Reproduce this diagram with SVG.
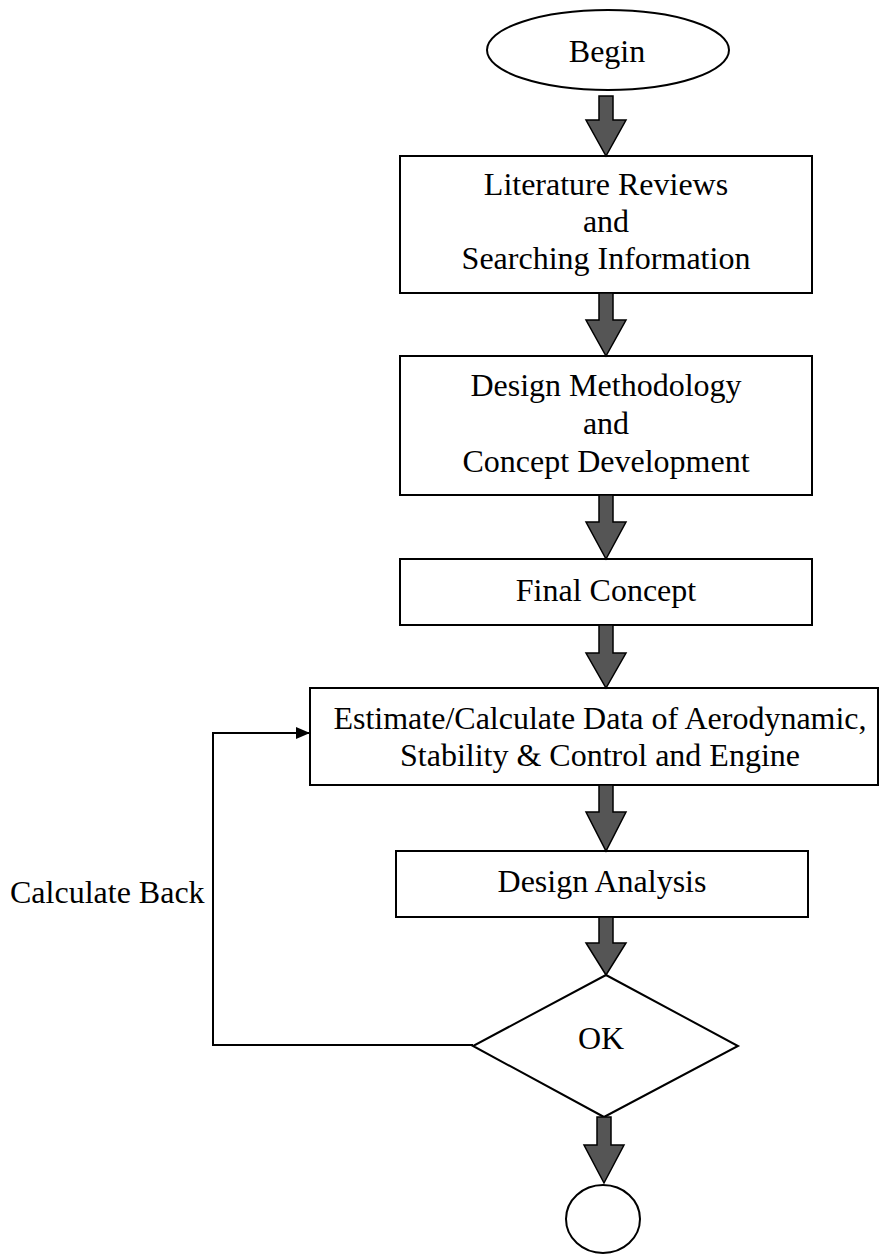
<svg xmlns="http://www.w3.org/2000/svg" width="880" height="1255" viewBox="0 0 880 1255">
  <style>
    .box { fill: #ffffff; stroke: #000000; stroke-width: 2; }
    .lbl { font-family: "Liberation Serif", "Times New Roman", serif; font-size: 32px; fill: #000000; text-anchor: middle; }
    .blk { fill: #555555; stroke: #000000; stroke-width: 1.5; stroke-linejoin: miter; }
    .line { fill: none; stroke: #000000; stroke-width: 2; }
  </style>
  <defs>
    <marker id="ah" markerWidth="14" markerHeight="12" refX="13" refY="6" orient="auto" markerUnits="userSpaceOnUse">
      <path d="M0,0 L14,6 L0,12 Z" fill="#000000"/>
    </marker>
  </defs>
  <rect x="0" y="0" width="880" height="1255" fill="#ffffff"/>

  <g id="begin">
    <ellipse class="box" cx="608" cy="50" rx="121" ry="40"/>
    <text class="lbl" x="607" y="62">Begin</text>
  </g>

  <g id="literature">
    <rect class="box" x="400" y="156" width="412" height="137"/>
    <text class="lbl" x="606" y="195">Literature Reviews</text>
    <text class="lbl" x="606" y="232">and</text>
    <text class="lbl" x="606" y="269">Searching Information</text>
  </g>

  <g id="methodology">
    <rect class="box" x="400" y="356" width="412" height="139"/>
    <text class="lbl" x="606" y="396">Design Methodology</text>
    <text class="lbl" x="606" y="434">and</text>
    <text class="lbl" x="606" y="472">Concept Development</text>
  </g>

  <g id="final-concept">
    <rect class="box" x="400" y="559" width="412" height="66"/>
    <text class="lbl" x="606" y="601">Final Concept</text>
  </g>

  <g id="estimate">
    <rect class="box" x="310" y="688" width="568" height="97"/>
    <text class="lbl" x="600" y="729">Estimate/Calculate Data of Aerodynamic,</text>
    <text class="lbl" x="600" y="766">Stability &amp; Control and Engine</text>
  </g>

  <g id="design-analysis">
    <rect class="box" x="396" y="851" width="412" height="66"/>
    <text class="lbl" x="602" y="892">Design Analysis</text>
  </g>

  <g id="ok">
    <polygon class="box" points="606,975 738,1046 604,1117 473,1046"/>
    <text class="lbl" x="601" y="1049">OK</text>
  </g>

  <g id="end">
    <ellipse class="box" cx="603" cy="1219" rx="37" ry="34"/>
  </g>

  <g id="calculate-back-label">
    <text class="lbl" x="10" y="903" style="text-anchor:start">Calculate Back</text>
  </g>

  <g id="connectors">
    <path class="blk" d="M599,96 L613,96 L613,120 L626,120 L606,156 L586,120 L599,120 Z"/>
    <path class="blk" d="M599,293 L613,293 L613,320 L626,320 L606,356 L586,320 L599,320 Z"/>
    <path class="blk" d="M599,495 L613,495 L613,522 L626,522 L606,559 L586,522 L599,522 Z"/>
    <path class="blk" d="M599,625 L613,625 L613,653 L626,653 L606,688 L586,653 L599,653 Z"/>
    <path class="blk" d="M599,785 L613,785 L613,812 L626,812 L606,851 L586,812 L599,812 Z"/>
    <path class="blk" d="M599,917 L613,917 L613,943 L626,943 L606,975 L586,943 L599,943 Z"/>
    <path class="blk" d="M597,1117 L611,1117 L611,1145 L624,1145 L604,1183 L584,1145 L597,1145 Z"/>
    <path class="line" d="M473,1045 L213,1045 L213,733 L309,733" marker-end="url(#ah)"/>
  </g>
</svg>
